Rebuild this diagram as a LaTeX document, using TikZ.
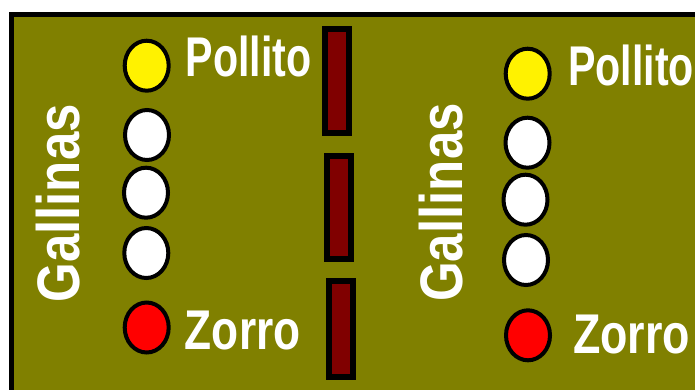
\documentclass[tikz,border=0pt]{standalone}
\usepackage{fontspec}
\usepackage{graphicx}
\setmainfont{Liberation Sans}
\usetikzlibrary{shapes.geometric}
\definecolor{fieldolive}{HTML}{808000}
\definecolor{barmaroon}{HTML}{800000}
\tikzset{
  bird/.style={ellipse, draw=black, line width=4pt, minimum width=44pt, minimum height=50pt, inner sep=0pt},
  fence/.style={rectangle, draw=black, fill=barmaroon, line width=6pt, minimum width=24pt, inner sep=0pt},
  label/.style={text=white, inner sep=0pt, font=\bfseries\fontsize{56}{60}\selectfont},
  sidelabel/.style={text=white, inner sep=0pt, rotate=90, font=\bfseries\fontsize{60}{64}\selectfont}
}
\begin{document}
\begin{tikzpicture}[x=1pt,y=-1pt]
\useasboundingbox (0,0) rectangle (695,389);
\fill[white] (0,0) rectangle (695,389);
\clip (0,0) rectangle (695,389);
\fill[fieldolive] (11.5,14.5) rectangle (710,400);
\draw[black, line width=5.5pt] (11.5,400) -- (11.5,14.5) -- (710,14.5);
% fences
\node[fence, minimum height=104.3pt] (f1) at (337.3,80.85) {};
\node[fence, minimum height=102.4pt] (f2) at (338.85,207.5) {};
\node[fence, minimum height=95.7pt] (f3) at (340.7,329.15) {};
% left group
\node[bird, fill=yellow] (ly) at (146.7,65.7) {};
\node[bird, fill=white] (lw1) at (147,135) {};
\node[bird, fill=white] (lw2) at (146,192.7) {};
\node[bird, fill=white] (lw3) at (146.3,253) {};
\node[bird, fill=red] (lr) at (146.7,327.5) {};
\node[sidelabel, anchor=base] (lg) at (79.3,203.4) {\scalebox{0.85}[1]{Gallinas}};
\node[label, anchor=base] (lp) at (248.8,76.7) {\scalebox{0.735}[1]{Pollito}};
\node[label, anchor=base] (lz) at (242.7,349) {\scalebox{0.79}[1]{Zorro}};
% right group
\node[bird, fill=yellow] (ry) at (527.7,73.7) {};
\node[bird, fill=white] (rw1) at (527.5,142.7) {};
\node[bird, fill=white] (rw2) at (525.5,199.7) {};
\node[bird, fill=white] (rw3) at (526,260) {};
\node[bird, fill=red] (rr) at (528,335.3) {};
\node[sidelabel, anchor=base] (rg) at (462.7,202.5) {\scalebox{0.85}[1]{Gallinas}};
\node[label, anchor=base] (rp) at (631.2,85) {\scalebox{0.735}[1]{Pollito}};
\node[label, anchor=base] (rz) at (631.7,353.3) {\scalebox{0.8}[1]{Zorro}};
\end{tikzpicture}
\end{document}
